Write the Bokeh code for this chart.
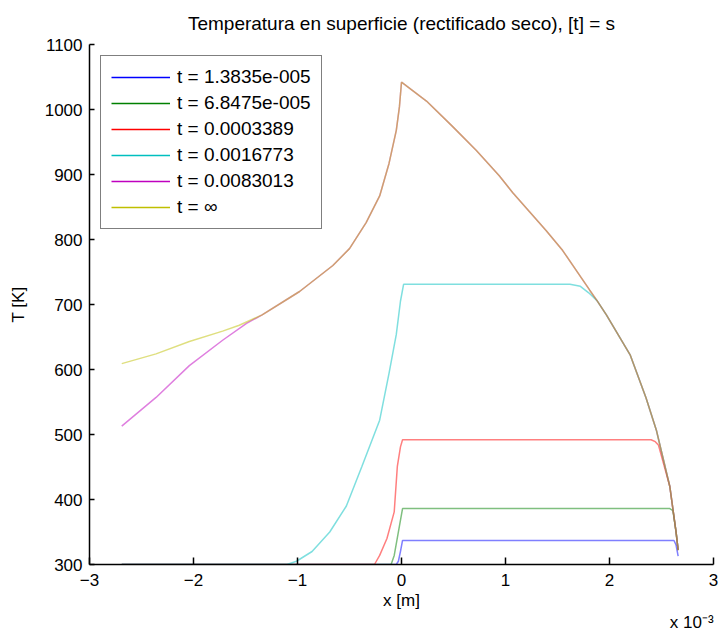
import numpy as np
from bokeh.plotting import figure
from bokeh.models import Range1d, FixedTicker, Legend, LegendItem, LinearAxis
from bokeh.embed import file_html
from bokeh.resources import INLINE

FONT = "Liberation Sans"

TITLE = "Temperatura en superficie (rectificado seco), [t] = s"
X_LABEL = "x [m]"
Y_LABEL = "T [K]"
X_SCALE_TEXT = "x 10\u207b\u00b3"
X_SCALE_POS = 2.79
X_TICKS = [-3, -2, -1, 0, 1, 2, 3]
Y_TICKS = [300, 400, 500, 600, 700, 800, 900, 1000, 1100]

LABELS = ["t = 1.3835e-005", "t = 6.8475e-005", "t = 0.0003389",
          "t = 0.0016773", "t = 0.0083013", "t = \u221e"]
COLORS = ["#0000ff", "#008000", "#ff0000", "#00bfbf", "#bf00bf", "#bfbf00"]

# x in units of 1e-3 m, T in K
# t = infinity (envelope)
X_INF = [-2.69, -2.36, -2.04, -1.72, -1.56, -1.34, -1.08, -0.98, -0.66, -0.50,
         -0.34, -0.21, -0.12, -0.05, -0.02, 0.00, 0.24, 0.49, 0.72, 0.94,
         1.07, 1.39, 1.55, 1.81, 1.88, 1.97, 2.20, 2.35, 2.45, 2.58, 2.64, 2.66]
T_INF = [609, 624, 643, 659, 668, 684, 710, 720, 760, 786,
         826, 867, 917, 968, 1004, 1042, 1013, 974, 937, 898,
         872, 814, 783, 722, 706, 684, 622, 557, 507, 420, 350, 322]

# t = 0.0083013 (own part, then joins envelope from X_M_JOIN)
X_M = [-2.69, -2.36, -2.04, -1.72, -1.49]
T_M = [513, 557, 606, 645, 671]
X_M_JOIN = -1.34

# t = 0.0016773
X_C = [-2.69, -1.10, -1.01, -0.86, -0.69, -0.53, -0.38, -0.21, -0.12, -0.05,
       -0.01, 0.02, 1.62, 1.72, 1.80]
T_C = [300, 300, 305, 320, 350, 390, 451, 522, 594, 654,
       705, 731, 731, 728, 718]
X_C_JOIN = 1.88

# t = 0.0003389
X_R = [-2.69, -0.26, -0.21, -0.14, -0.07, -0.04, -0.01, 0.01, 2.40, 2.44, 2.47]
T_R = [300, 300, 314, 340, 381, 451, 481, 492, 492, 489, 484]
X_R_JOIN = 2.58

# t = 6.8475e-005
X_G = [-2.69, -0.10, -0.07, -0.02, 0.01, 2.58, 2.61]
T_G = [300, 300, 314, 359, 386, 386, 383]
X_G_JOIN = 2.64

# t = 1.3835e-005
X_B = [-2.69, -0.05, -0.03, -0.01, 0.01, 2.62, 2.64, 2.66]
T_B = [300, 300, 305, 320, 337, 337, 330, 313]


def with_tail(xs, ts, xjoin):
    if xjoin is None:
        return list(xs), list(ts)
    tx = [x for x in X_INF if x >= xjoin]
    tt = [t for x, t in zip(X_INF, T_INF) if x >= xjoin]
    return list(xs) + tx, list(ts) + tt


series = [
    with_tail(X_B, T_B, None),
    with_tail(X_G, T_G, X_G_JOIN),
    with_tail(X_R, T_R, X_R_JOIN),
    with_tail(X_C, T_C, X_C_JOIN),
    with_tail(X_M, T_M, X_M_JOIN),
    (X_INF, T_INF),
]

p = figure(width=723, height=634, x_range=Range1d(-3, 3), y_range=Range1d(300, 1100),
           output_backend="svg", toolbar_location=None,
           min_border_left=89, min_border_right=10, min_border_top=42, min_border_bottom=69,
           title=TITLE)
p.outline_line_color = None
p.background_fill_color = "white"
p.border_fill_color = "white"
p.grid.visible = False

p.title.text_font = FONT
p.title.text_font_size = "19px"
p.title.text_font_style = "normal"
p.title.align = "center"
p.title.text_color = "#000000"
p.title.standoff = 21

for ax in (p.xaxis[0], p.yaxis[0]):
    ax.major_label_text_font = FONT
    ax.major_label_text_font_size = "17px"
    ax.major_label_text_color = "#000000"
    ax.axis_label_text_font = FONT
    ax.axis_label_text_font_size = "17px"
    ax.axis_label_text_font_style = "normal"
    ax.axis_label_text_color = "#000000"
    ax.axis_line_color = "#000000"
    ax.axis_line_width = 1.5
    ax.major_tick_line_color = "#000000"
    ax.major_tick_line_width = 1.5
    ax.major_tick_out = 0
    ax.minor_tick_line_color = None

p.xaxis[0].ticker = FixedTicker(ticks=X_TICKS)
p.yaxis[0].ticker = FixedTicker(ticks=Y_TICKS)
p.xaxis[0].axis_label = X_LABEL
p.yaxis[0].axis_label = Y_LABEL
p.xaxis[0].major_tick_in = 7
p.yaxis[0].major_tick_in = 5
p.xaxis[0].major_label_standoff = 9
p.xaxis[0].axis_label_standoff = 2
p.yaxis[0].major_label_standoff = 7
p.yaxis[0].axis_label_standoff = 14

# extra bottom axis carrying only the "x 10^-3" scale note
scale_ax = LinearAxis(ticker=FixedTicker(ticks=[X_SCALE_POS]),
                      major_label_overrides={X_SCALE_POS: X_SCALE_TEXT},
                      axis_line_color=None, major_tick_line_color=None,
                      minor_tick_line_color=None, major_tick_in=0, major_tick_out=0,
                      major_label_standoff=0,
                      major_label_text_font=FONT, major_label_text_font_size="17px",
                      major_label_text_color="#000000")
p.add_layout(scale_ax, "below")

for (xs, ts), c in zip(series, COLORS):
    p.line(xs, ts, line_color=c, line_width=1.5, line_alpha=0.5)

items = []
for lab, c in zip(LABELS, COLORS):
    r = p.line([np.nan], [np.nan], line_color=c, line_width=1.5)
    items.append(LegendItem(label=lab, renderers=[r]))

legend = Legend(items=items, location="top_left", margin=11,
                padding=10, spacing=4, glyph_width=59, glyph_height=20,
                label_height=20, label_standoff=7,
                label_text_font=FONT, label_text_font_size="19px",
                label_text_color="#000000",
                border_line_color="#000000", border_line_width=1.5,
                background_fill_color="white", background_fill_alpha=1.0)
p.add_layout(legend)

open("out.html", "w").write(file_html(p, INLINE))
